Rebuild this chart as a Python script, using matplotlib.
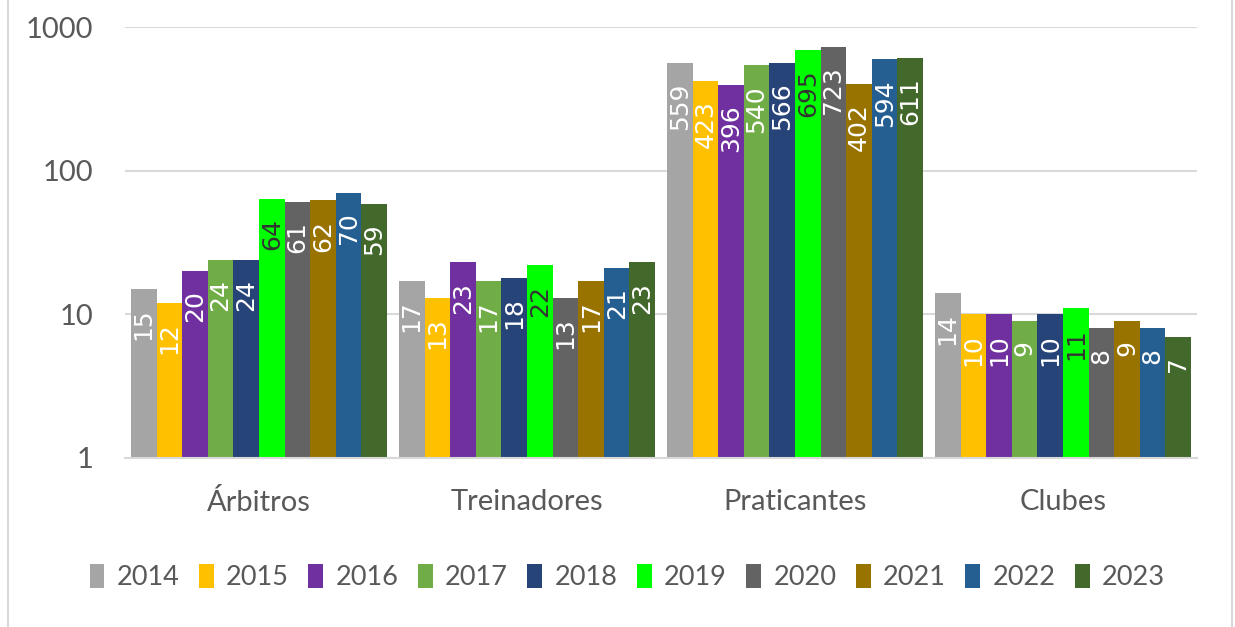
import matplotlib
matplotlib.use("Agg")
from matplotlib import pyplot as plt
import numpy as np

categories = ['Árbitros', 'Treinadores', 'Praticantes', 'Clubes']
years = ['2014', '2015', '2016', '2017', '2018', '2019', '2020', '2021', '2022', '2023']

arbitros = [15, 12, 20, 24, 24, 64, 61, 62, 70, 59]
treinadores = [17, 13, 23, 17, 18, 22, 13, 17, 21, 23]
praticantes = [559, 423, 396, 540, 566, 695, 723, 402, 594, 611]
clubes = [14, 10, 10, 9, 10, 11, 8, 9, 8, 7]

colors = ['#A5A5A5', '#FFC000', '#7030A0', '#70AD47', '#264478',
          '#00FF00', '#636363', '#997300', '#255E91', '#43682B']

values = np.array([arbitros, treinadores, praticantes, clubes])

fig = plt.figure(figsize=(12.35, 6.27), dpi=100)
ax = fig.add_axes([125 / 1235, 1 - 458 / 627, (1197 - 125) / 1235, (458 - 27) / 627])

x = np.arange(len(categories))
width = 0.0956
for i, year in enumerate(years):
    pos = x - 4.5 * width + i * width
    vals = values[:, i]
    ax.bar(pos, vals - 1, width, bottom=1, color=colors[i], label=year)
    txt_color = '#333333' if year == '2019' else 'white'
    for p, v in zip(pos, vals):
        ax.annotate(str(v), (p, v), xytext=(0, -14), textcoords='offset points',
                    rotation=90, ha='center', va='top', color=txt_color,
                    fontsize=18, family='DejaVu Sans')

ax.set_yscale('log')
ax.set_ylim(1, 1000)
ax.set_xlim(-0.5, 3.5)
ax.set_yticks([1, 10, 100, 1000])
ax.set_yticklabels(['1', '10', '100', '1000'])
ax.minorticks_off()
ax.yaxis.grid(True, color='#D9D9D9', linewidth=1.5)
ax.set_axisbelow(True)
for s in ['top', 'right', 'left']:
    ax.spines[s].set_visible(False)
ax.spines['bottom'].set_color('#D9D9D9')
ax.spines['bottom'].set_linewidth(1.5)
ax.tick_params(length=0)
ax.tick_params(axis='y', pad=23, labelsize=21, labelcolor='#595959')
ax.tick_params(axis='x', pad=22, labelsize=21, labelcolor='#595959')
ax.set_xticks(x)
ax.set_xticklabels(categories)
for lab in ax.get_xticklabels() + ax.get_yticklabels():
    lab.set_family('Lato')

leg = fig.legend(loc='center', bbox_to_anchor=(0.508, 1 - 577 / 627), ncol=10,
                 frameon=False, handlelength=0.55, handleheight=1.0,
                 handletextpad=0.45, columnspacing=0.72,
                 prop={'family': 'Lato', 'size': 19.5})
for t in leg.get_texts():
    t.set_color('#595959')

fig.add_artist(plt.Line2D([8 / 1235, 8 / 1235], [0, 1], color='#D9D9D9', lw=1.5))
fig.add_artist(plt.Line2D([1232 / 1235, 1232 / 1235], [0, 1], color='#D9D9D9', lw=1.5))

fig.savefig('out.png', dpi=100)
